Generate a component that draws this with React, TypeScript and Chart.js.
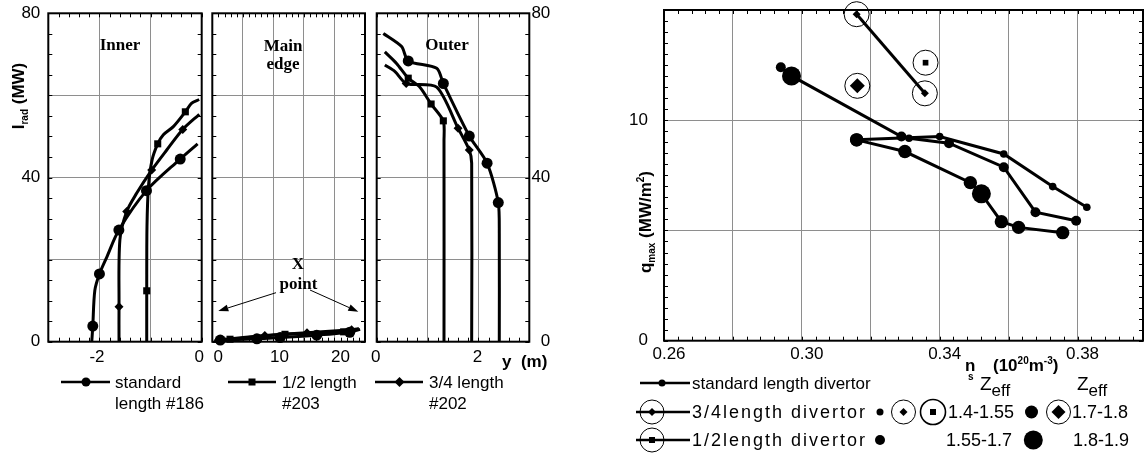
import React, { useEffect, useRef } from "react";
import { Chart, registerables } from "chart.js";

Chart.register(...registerables);

const SANS = "'Liberation Sans', Arial, Helvetica, sans-serif";
const SERIF = "'Liberation Serif', 'Times New Roman', serif";
const FIG_W = 1145;
const FIG_H = 455;

// ================= Left figure: I_rad (MW) vs y (m) =================
const iradTicks = [0, 20, 40, 60, 80];
const iradLabels = [0, 40, 80];

const innerTicks = [-3, -2, -1, 0];
const innerLabels = [-2, 0];
const edgeTicks = [0, 5, 10, 15, 20, 25];
const edgeLabels = [0, 10, 20];
const outerTicks = [0, 1, 2, 3];
const outerLabels = [0, 2];

// Inner leg
const innerStdX = [-2.15, -2.13, -2.09, -2.0, -1.86, -1.62, -1.08, -0.42, -0.08];
const innerStdY = [0, 3.8, 12.5, 16.5, 20.5, 27.2, 36.8, 44.5, 48.2];
const innerStdMarks = [1, 3, 5, 6, 7];

const innerHalfX = [-1.075, -1.075, -1.07, -1.04, -0.97, -0.86, -0.75, -0.555, -0.32, -0.195, -0.05];
const innerHalfY = [0, 12.4, 28, 38, 44.3, 48.2, 50.4, 52.4, 56.0, 58.1, 59.0];
const innerHalfMarks = [1, 5, 8];

const innerQuarX = [-1.617, -1.617, -1.6, -1.467, -1.27, -0.978, -0.684, -0.371, -0.047];
const innerQuarY = [0, 8.5, 24.8, 31.7, 36.2, 41.8, 46.7, 51.7, 55.4];
const innerQuarMarks = [1, 3, 5, 7];

// Main edge
const edgeStdX = [0.3, 1.3, 7.3, 11.1, 17.1, 22.5, 24.2];
const edgeStdY = [0.2, 0.4, 0.7, 1.0, 1.6, 2.3, 3.0];
const edgeStdMarks = [1, 2, 3, 4, 5];

const edgeHalfX = [0.8, 2.9, 11.9, 21.5, 23.5];
const edgeHalfY = [0.3, 0.6, 1.8, 2.4, 2.8];
const edgeHalfMarks = [1, 2, 3];

const edgeQuarX = [1.5, 8.6, 15.5, 22.8, 24.0];
const edgeQuarY = [0.5, 1.5, 2.2, 2.9, 3.2];
const edgeQuarMarks = [1, 2, 3];

// Outer leg
const outerStdX = [0.13, 0.49, 0.62, 1.18, 1.31, 1.82, 2.17, 2.39, 2.41, 2.41];
const outerStdY = [75.1, 71.9, 68.4, 66.6, 62.9, 50.1, 43.5, 33.9, 26.4, 0];
const outerStdMarks = [2, 4, 5, 6, 7];

const outerQuarX = [0.16, 0.36, 0.58, 1.18, 1.6, 1.82, 1.867, 1.867];
const outerQuarY = [67.4, 65.8, 62.9, 62.0, 52.0, 46.7, 43.5, 0];
const outerQuarMarks = [2, 4, 5];

const outerHalfX = [0.16, 0.39, 0.62, 0.85, 1.07, 1.31, 1.323, 1.323];
const outerHalfY = [70.6, 67.8, 64.2, 62.0, 57.9, 53.8, 49.0, 0];
const outerHalfMarks = [2, 4, 5];

// ================= Right figure: q_max vs n_s =================
const nsTicks = [0.26, 0.28, 0.3, 0.32, 0.34, 0.36, 0.38];
const nsLabels = [0.26, 0.3, 0.34, 0.38];
const qTicks = [0, 5, 10, 15];
const qLabels = [0, 10];

// Zeff class: 1 = 1.4-1.55, 2 = 1.55-1.7, 3 = 1.7-1.8, 4 = 1.8-1.9
const std1Ns = [0.2939, 0.297, 0.3289, 0.3311, 0.3427, 0.3586, 0.3678, 0.3796];
const std1Q = [12.4, 12.01, 9.26, 9.18, 8.96, 7.87, 5.83, 5.44];
const std1Zeff = [2, 4, 2, 1, 2, 2, 2, 2];

const std2Ns = [0.3159, 0.34, 0.3586, 0.3728, 0.3827];
const std2Q = [9.11, 9.26, 8.47, 6.99, 6.05];
const std2Zeff = [3, 1, 1, 1, 1];

const std3Ns = [0.3159, 0.3299, 0.3489, 0.3521, 0.3579, 0.3629, 0.3757];
const std3Q = [9.11, 8.58, 7.17, 6.66, 5.4, 5.14, 4.9];
const std3Zeff = [3, 3, 3, 4, 3, 3, 3];

const len34Ns = [0.3159, 0.3357];
const len34Q = [14.81, 11.22];
const len34Zeff = [1, 1];

const len34bNs = [0.3161];
const len34bQ = [11.56];
const len34bZeff = [3];

const len12Ns = [0.3359];
const len12Q = [12.61];
const len12Zeff = [1];

// ================= helpers =================
type Panel = {
  L: number; T: number; R: number; B: number;
  xMin: number; xMax: number; xTicks: number[]; xLabels: number[]; xFmt: (v: number) => string; xMinor: number; xLabelOffset: number;
  yMin: number; yMax: number; yTicks: number[]; yLabels: number[]; yMinor: number;
  yPos: "left" | "right" | "none"; yAxisW: number; xAxisH: number; xPad: number; yPad: number;
  tickLen: number; frameW: number;
};

const has = (arr: number[], v: number) => arr.some((a) => Math.abs(a - v) < 1e-9);

function zeroPad(s: any) {
  s.paddingLeft = 0;
  s.paddingRight = 0;
  s.paddingTop = 0;
  s.paddingBottom = 0;
}

function makeOptions(p: Panel): any {
  const padLeft = p.yPos === "left" ? p.L - p.yAxisW : p.L;
  const padRight = p.yPos === "right" ? FIG_W - p.R - p.yAxisW : FIG_W - p.R;
  const padBottom = FIG_H - p.B - p.xAxisH;
  const font = { family: SANS, size: 17 };
  return {
    animation: false,
    responsive: false,
    maintainAspectRatio: false,
    events: [],
    layout: { autoPadding: false, padding: { left: padLeft, right: padRight, top: p.T, bottom: padBottom } },
    plugins: { legend: { display: false }, tooltip: { enabled: false } },
    scales: {
      x: {
        type: "linear",
        min: p.xMin,
        max: p.xMax,
        position: "bottom",
        afterBuildTicks: (s: any) => { s.ticks = p.xTicks.map((v) => ({ value: v })); },
        afterFit: (s: any) => { s.height = p.xAxisH; zeroPad(s); },
        ticks: {
          autoSkip: false, maxRotation: 0, minRotation: 0, padding: p.xPad, color: "#000", font,
          labelOffset: p.xLabelOffset,
          callback: (v: any) => (has(p.xLabels, Number(v)) ? p.xFmt(Number(v)) : ""),
        },
        grid: { color: "#8e8e8e", lineWidth: 1, drawTicks: false },
        border: { display: false },
      },
      y: {
        type: "linear",
        min: p.yMin,
        max: p.yMax,
        position: p.yPos === "right" ? "right" : "left",
        afterBuildTicks: (s: any) => { s.ticks = p.yTicks.map((v) => ({ value: v })); },
        afterFit: (s: any) => { s.width = p.yPos === "none" ? 0 : p.yAxisW; zeroPad(s); },
        ticks: {
          display: p.yPos !== "none", padding: p.yPad, color: "#000", font,
          crossAlign: p.yPos === "right" ? "far" : "near",
          callback: (v: any) => (has(p.yLabels, Number(v)) ? String(v) : ""),
        },
        grid: { color: "#8e8e8e", lineWidth: 1, drawTicks: false },
        border: { display: false },
      },
    },
  };
}

function framePlugin(p: Panel) {
  return {
    id: "frameTicks",
    beforeDatasetsDraw(chart: any) {
      const { ctx, chartArea: a } = chart;
      const xs = chart.scales.x;
      const ys = chart.scales.y;
      ctx.save();
      ctx.strokeStyle = "#000";
      ctx.lineWidth = 1;
      ctx.beginPath();
      const nx = Math.floor((p.xMax - p.xMin) / p.xMinor + 1e-6);
      for (let i = 0; i <= nx; i++) {
        const px = Math.round(xs.getPixelForValue(p.xMin + i * p.xMinor)) + 0.5;
        ctx.moveTo(px, a.bottom); ctx.lineTo(px, a.bottom - p.tickLen);
        ctx.moveTo(px, a.top); ctx.lineTo(px, a.top + p.tickLen);
      }
      const ny = Math.floor((p.yMax - p.yMin) / p.yMinor + 1e-6);
      for (let i = 0; i <= ny; i++) {
        const py = Math.round(ys.getPixelForValue(p.yMin + i * p.yMinor)) + 0.5;
        ctx.moveTo(a.left, py); ctx.lineTo(a.left + p.tickLen, py);
        ctx.moveTo(a.right, py); ctx.lineTo(a.right - p.tickLen, py);
      }
      ctx.stroke();
      ctx.lineWidth = p.frameW;
      ctx.strokeRect(a.left, a.top, a.right - a.left, a.bottom - a.top);
      ctx.restore();
    },
  };
}

function curve(xs: number[], ys: number[], marks: number[], style: string, r: number, tension: number) {
  const radius = xs.map((_, i) => (marks.includes(i) ? r : 0));
  return {
    data: xs.map((x, i) => ({ x, y: ys[i] })),
    showLine: true,
    borderColor: "#000",
    backgroundColor: "#000",
    borderWidth: 3,
    tension,
    pointStyle: style,
    pointRadius: radius,
    pointHoverRadius: radius,
    pointBorderWidth: 0,
    clip: false,
  };
}

const zeffCircle = [0, 3.8, 5, 6.7, 9.5];
const zeffDiamond = [0, 4, 5.5, 7.5, 9];
const zeffSquare = [0, 4, 5, 6, 7];

function zeffSeries(xs: number[], ys: number[], zeff: number[], style: string, sizes: number[], line: boolean) {
  const radius = zeff.map((z) => sizes[z]);
  return {
    data: xs.map((x, i) => ({ x, y: ys[i] })),
    showLine: line,
    borderColor: "#000",
    backgroundColor: "#000",
    borderWidth: 3,
    tension: 0,
    pointStyle: style,
    pointRadius: radius,
    pointHoverRadius: radius,
    pointBorderWidth: 0,
    clip: false,
  };
}

function rings(xs: number[], ys: number[]) {
  return {
    data: xs.map((x, i) => ({ x, y: ys[i] })),
    showLine: false,
    borderColor: "#000",
    backgroundColor: "rgba(0,0,0,0)",
    pointStyle: "circle",
    pointRadius: 12.5,
    pointHoverRadius: 12.5,
    pointBorderWidth: 1,
    clip: false,
  };
}

const leftCommon = { T: 13.3, B: 341.7, yMin: 0, yMax: 80, yTicks: iradTicks, yLabels: iradLabels, yMinor: 5, xAxisH: 30, xPad: 5, tickLen: 4, frameW: 2 };

const INNER: Panel = { ...leftCommon, L: 48.3, R: 201.7, xMin: -3, xMax: 0, xTicks: innerTicks, xLabels: innerLabels, xFmt: (v) => String(v), xMinor: 0.2, xLabelOffset: -2.5, yPos: "left", yAxisW: 48.3, yPad: 8 };
const EDGE: Panel = { ...leftCommon, L: 212.3, R: 365, xMin: 0, xMax: 25, xTicks: edgeTicks, xLabels: edgeLabels, xFmt: (v) => String(v), xMinor: 1, xLabelOffset: 6, yPos: "none", yAxisW: 0, yPad: 0 };
const OUTER: Panel = { ...leftCommon, L: 376.7, R: 529.3, xMin: 0, xMax: 3, xTicks: outerTicks, xLabels: outerLabels, xFmt: (v) => String(v), xMinor: 0.2, xLabelOffset: -1, yPos: "right", yAxisW: 21, yPad: 4 };
const RIGHT: Panel = { L: 664, T: 10, R: 1143, B: 340.7, xMin: 0.26, xMax: 0.399, xTicks: nsTicks, xLabels: nsLabels, xFmt: (v) => v.toFixed(2), xMinor: 0.004, xLabelOffset: 5, yMin: 0, yMax: 15, yTicks: qTicks, yLabels: qLabels, yMinor: 0.5, yPos: "left", yAxisW: 40, xAxisH: 30, xPad: 3, yPad: 16, tickLen: 4, frameW: 2 };

function build(p: Panel, datasets: any[]) {
  return () => ({ type: "scatter", data: { datasets }, options: makeOptions(p), plugins: [framePlugin(p)] } as any);
}

const buildInner = build(INNER, [
  curve(innerStdX, innerStdY, innerStdMarks, "circle", 5.5, 0.3),
  curve(innerHalfX, innerHalfY, innerHalfMarks, "rect", 5, 0.3),
  curve(innerQuarX, innerQuarY, innerQuarMarks, "rectRot", 4.5, 0.3),
]);
const buildEdge = build(EDGE, [
  curve(edgeStdX, edgeStdY, edgeStdMarks, "circle", 5.5, 0.2),
  curve(edgeHalfX, edgeHalfY, edgeHalfMarks, "rect", 5, 0.2),
  curve(edgeQuarX, edgeQuarY, edgeQuarMarks, "rectRot", 4.5, 0.2),
]);
const buildOuter = build(OUTER, [
  curve(outerStdX, outerStdY, outerStdMarks, "circle", 5.5, 0.25),
  curve(outerHalfX, outerHalfY, outerHalfMarks, "rect", 5, 0.25),
  curve(outerQuarX, outerQuarY, outerQuarMarks, "rectRot", 4.5, 0.25),
]);
const buildRight = build(RIGHT, [
  zeffSeries(len34Ns, len34Q, len34Zeff, "rectRot", zeffDiamond, true),
  rings(len34Ns, len34Q),
  zeffSeries(len34bNs, len34bQ, len34bZeff, "rectRot", zeffDiamond, false),
  rings(len34bNs, len34bQ),
  zeffSeries(len12Ns, len12Q, len12Zeff, "rect", zeffSquare, false),
  rings(len12Ns, len12Q),
  zeffSeries(std1Ns, std1Q, std1Zeff, "circle", zeffCircle, true),
  zeffSeries(std2Ns, std2Q, std2Zeff, "circle", zeffCircle, true),
  zeffSeries(std3Ns, std3Q, std3Zeff, "circle", zeffCircle, true),
]);

function ChartCanvas({ make }: { make: () => any }) {
  const ref = useRef<HTMLCanvasElement>(null);
  useEffect(() => {
    const chart = new Chart(ref.current as HTMLCanvasElement, make());
    return () => chart.destroy();
  }, []);
  return (
    <canvas
      ref={ref}
      width={FIG_W}
      height={FIG_H}
      style={{ position: "absolute", left: 0, top: 0, width: FIG_W, height: FIG_H }}
    />
  );
}

function Txt(props: { x: number; y: number; size?: number; bold?: boolean; serif?: boolean; center?: boolean; rotate?: boolean; children: any; style?: any }) {
  const { x, y, size = 17, bold = false, serif = false, center = false, rotate = false, children, style } = props;
  let transform = center ? "translate(-50%,-50%)" : "translateY(-50%)";
  if (rotate) transform = "translate(-50%,-50%) rotate(-90deg)";
  return (
    <div
      style={{
        position: "absolute", left: x, top: y, transform, fontSize: size,
        fontWeight: bold ? 700 : 400, fontFamily: serif ? SERIF : SANS,
        whiteSpace: "nowrap", lineHeight: 1, color: "#000", ...style,
      }}
    >
      {children}
    </div>
  );
}

function Diamond({ cx, cy, r }: { cx: number; cy: number; r: number }) {
  return <polygon points={`${cx},${cy - r} ${cx + r},${cy} ${cx},${cy + r} ${cx - r},${cy}`} fill="#000" />;
}

function Arrow({ x1, y1, x2, y2 }: { x1: number; y1: number; x2: number; y2: number }) {
  const dx = x2 - x1, dy = y2 - y1;
  const L = Math.hypot(dx, dy);
  const ux = dx / L, uy = dy / L;
  const hl = 10, hw = 3.5;
  const bx = x2 - ux * hl, by = y2 - uy * hl;
  const p1 = `${bx + uy * hw},${by - ux * hw}`;
  const p2 = `${bx - uy * hw},${by + ux * hw}`;
  return (
    <g>
      <line x1={x1} y1={y1} x2={bx} y2={by} stroke="#000" strokeWidth={1} />
      <polygon points={`${x2},${y2} ${p1} ${p2}`} fill="#000" />
    </g>
  );
}

export default function App() {
  useEffect(() => {
    document.body.style.margin = "0";
  }, []);
  const sub = (t: string, size = 10, top = 4) => (
    <span style={{ fontSize: size, position: "relative", top }}>{t}</span>
  );
  const sup = (t: string, size = 10, top = -7) => (
    <span style={{ fontSize: size, position: "relative", top }}>{t}</span>
  );
  const wide = { letterSpacing: "2px" };
  return (
    <div style={{ position: "fixed", left: 0, top: 0, width: FIG_W, height: FIG_H, background: "#fff", overflow: "hidden", fontFamily: SANS }}>
      <ChartCanvas make={buildInner} />
      <ChartCanvas make={buildEdge} />
      <ChartCanvas make={buildOuter} />
      <ChartCanvas make={buildRight} />

      <svg width={FIG_W} height={FIG_H} style={{ position: "absolute", left: 0, top: 0 }}>
        {/* X point arrows */}
        <Arrow x1={276} y1={292.7} x2={218.3} y2={311} />
        <Arrow x1={310} y1={290} x2={358.3} y2={311.7} />

        {/* left legend */}
        <line x1={61} y1={382} x2={110} y2={382} stroke="#000" strokeWidth={2.5} />
        <circle cx={86} cy={382} r={4.5} fill="#000" />
        <line x1={228} y1={382} x2={276} y2={382} stroke="#000" strokeWidth={2.5} />
        <rect x={248.5} y={378.5} width={7} height={7} fill="#000" />
        <line x1={375} y1={382} x2={423} y2={382} stroke="#000" strokeWidth={2.5} />
        <Diamond cx={399.5} cy={382} r={5} />

        {/* right legend */}
        <line x1={640} y1={383} x2={690} y2={383} stroke="#000" strokeWidth={2.5} />
        <circle cx={662} cy={383} r={3.5} fill="#000" />
        <line x1={636} y1={412} x2={690} y2={412} stroke="#000" strokeWidth={2.5} />
        <circle cx={652} cy={412} r={12} fill="none" stroke="#000" strokeWidth={1} />
        <Diamond cx={652} cy={412} r={4} />
        <line x1={636} y1={440} x2={690} y2={440} stroke="#000" strokeWidth={2.5} />
        <circle cx={652} cy={440} r={12} fill="none" stroke="#000" strokeWidth={1} />
        <rect x={649} y={437} width={6} height={6} fill="#000" />

        <circle cx={880} cy={412} r={3.5} fill="#000" />
        <circle cx={903.5} cy={412} r={12} fill="none" stroke="#000" strokeWidth={1} />
        <Diamond cx={903.5} cy={412} r={4} />
        <circle cx={933} cy={412} r={12.5} fill="none" stroke="#000" strokeWidth={1.6} />
        <rect x={930} y={409} width={6} height={6} fill="#000" />
        <circle cx={1031.5} cy={412} r={6.5} fill="#000" />
        <circle cx={1058.5} cy={412} r={12} fill="none" stroke="#000" strokeWidth={1} />
        <Diamond cx={1058.5} cy={412} r={7} />
        <circle cx={880} cy={440} r={5} fill="#000" />
        <circle cx={1033.3} cy={440} r={9.5} fill="#000" />
      </svg>

      {/* left panel annotations */}
      <Txt x={120} y={44} size={17} bold serif center>Inner</Txt>
      <Txt x={283} y={45} size={17} bold serif center>Main</Txt>
      <Txt x={283} y={63} size={17} bold serif center>edge</Txt>
      <Txt x={447} y={44} size={17} bold serif center>Outer</Txt>
      <Txt x={298} y={263} size={17} bold serif center>X</Txt>
      <Txt x={298.5} y={283} size={17} bold serif center>point</Txt>

      <Txt x={18} y={96} size={17} bold rotate>I{sub("rad", 10, 4)} (MW)</Txt>
      <Txt x={502} y={361} size={17} bold>y&nbsp;&nbsp;(m)</Txt>

      <Txt x={115} y={382} size={17}>standard</Txt>
      <Txt x={115} y={403} size={17}>length #186</Txt>
      <Txt x={282} y={382} size={17}>1/2 length</Txt>
      <Txt x={282} y={403} size={17}>#203</Txt>
      <Txt x={429} y={382} size={17}>3/4 length</Txt>
      <Txt x={429} y={403} size={17}>#202</Txt>

      {/* right panel annotations */}
      <Txt x={645} y={222} size={17} bold rotate>q{sub("max", 10, 4)} (MW/m{sup("2", 10, -7)})</Txt>
      <Txt x={965} y={365} size={17} bold>n</Txt>
      <Txt x={968} y={377} size={10} bold>s</Txt>
      <Txt x={993} y={365} size={17} bold>(10{sup("20", 10, -7)}m{sup("-3", 10, -7)})</Txt>

      <Txt x={692} y={383} size={17}>standard length divertor</Txt>
      <Txt x={692} y={412} size={18} style={wide}>3/4length divertor</Txt>
      <Txt x={692} y={440} size={18} style={wide}>1/2length divertor</Txt>

      <Txt x={980} y={383} size={19}>Z{sub("eff", 17, 6)}</Txt>
      <Txt x={1077} y={383} size={19}>Z{sub("eff", 17, 6)}</Txt>
      <Txt x={948} y={412} size={18}>1.4-1.55</Txt>
      <Txt x={1072} y={412} size={18}>1.7-1.8</Txt>
      <Txt x={946} y={440} size={18}>1.55-1.7</Txt>
      <Txt x={1073} y={440} size={18}>1.8-1.9</Txt>
    </div>
  );
}
